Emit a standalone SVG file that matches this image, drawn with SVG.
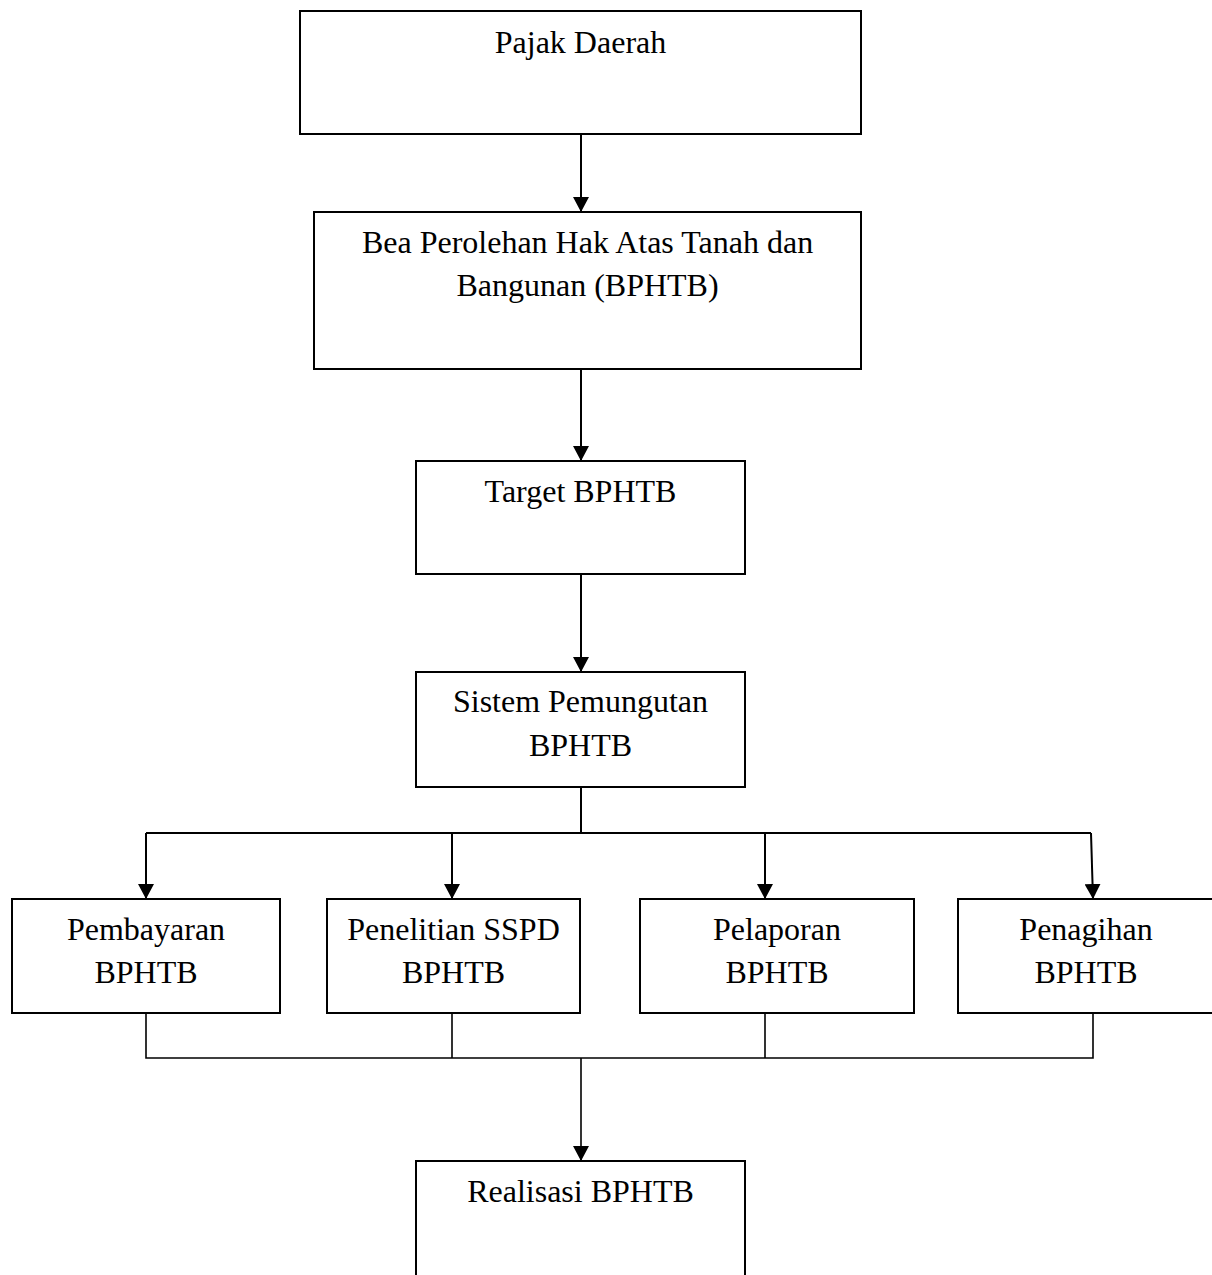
<svg xmlns="http://www.w3.org/2000/svg" width="1212" height="1275" viewBox="0 0 1212 1275">
<style>
.box{fill:#fff;stroke:#000;stroke-width:2}
.t{font-family:"Liberation Serif","Times New Roman",serif;font-size:32px;fill:#000;text-anchor:middle}
.c{fill:none;stroke:#000;stroke-width:2}
.c2{fill:none;stroke:#000;stroke-width:1.6}
</style>
<defs>
<marker id="ah" markerUnits="userSpaceOnUse" viewBox="0 0 15 16" refX="15" refY="8" markerWidth="15" markerHeight="16" orient="auto">
<path d="M0,0 L15,8 L0,16 z" fill="#000"/>
</marker>
</defs>
<rect width="1212" height="1275" fill="#fff"/>
<g id="connectors">
<path class="c" d="M581,134 V212" marker-end="url(#ah)"/>
<path class="c" d="M581,369 V461" marker-end="url(#ah)"/>
<path class="c" d="M581,574 V672" marker-end="url(#ah)"/>
<path class="c" d="M581,787 V833 M146,833 H1091"/>
<path class="c" d="M146,833 V899" marker-end="url(#ah)"/>
<path class="c" d="M452,833 V899" marker-end="url(#ah)"/>
<path class="c" d="M765,833 V899" marker-end="url(#ah)"/>
<path class="c" d="M1091,833 L1093,899" marker-end="url(#ah)"/>
<path class="c2" d="M146,1013 V1058 H1093 V1013 M452,1013 V1058 M765,1013 V1058"/>
<path class="c2" d="M581,1058 V1161" marker-end="url(#ah)"/>
</g>
<g id="pajak-daerah">
<rect class="box" x="300" y="11" width="561" height="123"/>
<text class="t" x="580.5" y="53">Pajak Daerah</text>
</g>
<g id="bphtb">
<rect class="box" x="314" y="212" width="547" height="157"/>
<text class="t" x="587.5" y="253">Bea Perolehan Hak Atas Tanah dan</text>
<text class="t" x="587.5" y="296">Bangunan (BPHTB)</text>
</g>
<g id="target">
<rect class="box" x="416" y="461" width="329" height="113"/>
<text class="t" x="580.5" y="502">Target BPHTB</text>
</g>
<g id="sistem">
<rect class="box" x="416" y="672" width="329" height="115"/>
<text class="t" x="580.5" y="712">Sistem Pemungutan</text>
<text class="t" x="580.5" y="756">BPHTB</text>
</g>
<g id="pembayaran">
<rect class="box" x="12" y="899" width="268" height="114"/>
<text class="t" x="146" y="940">Pembayaran</text>
<text class="t" x="146" y="983">BPHTB</text>
</g>
<g id="penelitian">
<rect class="box" x="327" y="899" width="253" height="114"/>
<text class="t" x="453.5" y="940">Penelitian SSPD</text>
<text class="t" x="453.5" y="983">BPHTB</text>
</g>
<g id="pelaporan">
<rect class="box" x="640" y="899" width="274" height="114"/>
<text class="t" x="777" y="940">Pelaporan</text>
<text class="t" x="777" y="983">BPHTB</text>
</g>
<g id="penagihan">
<rect class="box" x="958" y="899" width="256" height="114"/>
<text class="t" x="1086" y="940">Penagihan</text>
<text class="t" x="1086" y="983">BPHTB</text>
</g>
<g id="realisasi">
<rect class="box" x="416" y="1161" width="329" height="125"/>
<text class="t" x="580.5" y="1202">Realisasi BPHTB</text>
</g>
</svg>
